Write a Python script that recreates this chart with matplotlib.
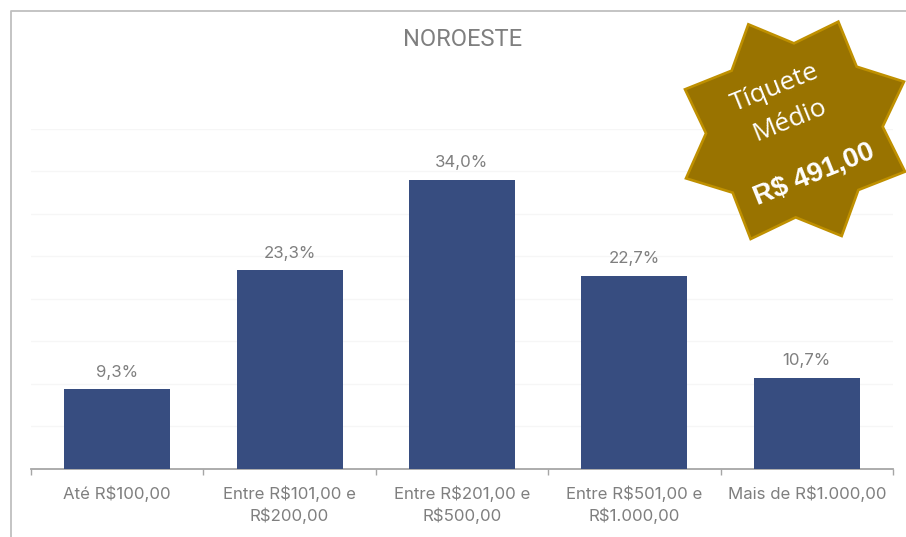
import matplotlib
matplotlib.use("Agg")
import matplotlib.pyplot as plt
from matplotlib.patches import Polygon
from matplotlib.lines import Line2D

categories = ["Até R$100,00", "Entre R$101,00 e\nR$200,00", "Entre R$201,00 e\nR$500,00",
              "Entre R$501,00 e\nR$1.000,00", "Mais de R$1.000,00"]
values = [9.3, 23.3, 34.0, 22.7, 10.7]
labels = ["9,3%", "23,3%", "34,0%", "22,7%", "10,7%"]
title = "NOROESTE"

W, H = 906, 537
GRAY = "#7f7f7f"
FONT = "Inter"
fig = plt.figure(figsize=(W / 100, H / 100), dpi=100, facecolor="white")
ax = fig.add_axes([31 / W, 1 - 468.5 / H, (893 - 31) / W, (468.5 - 128.5) / H])
x = list(range(len(values)))
ax.bar(x, values, width=0.615, color="#374d80", zorder=3)
ax.set_xlim(-0.5, 4.5)
ax.set_ylim(0, 40)
ax.set_yticks(range(5, 45, 5))
ax.grid(axis="y", color="#f6f6f6", lw=0.9, zorder=0)
ax.tick_params(axis="y", left=False, labelleft=False)
for s in ("top", "left", "right"):
    ax.spines[s].set_visible(False)
ax.spines["bottom"].set_color("#a6a6a6")
ax.spines["bottom"].set_linewidth(1.3)
ax.set_xticks([i - 0.5 for i in range(6)])
ax.tick_params(axis="x", which="major", length=4.5, color="#a6a6a6", width=1, labelbottom=False)
ax.set_xticks(x, categories, minor=True)
ax.tick_params(axis="x", which="minor", length=0, pad=12.5, labelsize=12.1, labelcolor=GRAY)
for t in ax.get_xticklabels(minor=True):
    t.set_family(FONT)
    t.set_linespacing(1.36)
for xi, v, lab in zip(x, values, labels):
    ax.annotate(lab, (xi, v), xytext=(0, 7), textcoords="offset points", ha="center", va="bottom",
                color=GRAY, fontsize=12.1, family=FONT)

px = lambda a, b: (a / W, 1 - b / H)
fig.text(*px(463, 40), title, ha="center", va="center", color=GRAY, fontsize=17, family="Roboto")

# outer frame
fig.add_artist(Line2D([10.5 / W, 10.5 / W, 1], [0, 1 - 11 / H, 1 - 11 / H], color="#bfbfbf", lw=1.3))

# badge
zx = [265, 402, 535, 590, 732, 668, 735, 595, 545, 407, 272, 218, 78, 138, 75, 215]
zy = [73, 130, 65, 200, 245, 380, 515, 570, 708, 652, 717, 578, 535, 400, 268, 212]
star = Polygon([px(660 + a / 3, b / 3) for a, b in zip(zx, zy)], closed=True, transform=fig.transFigure,
               facecolor="#997300", edgecolor="#bf9000", lw=1.9, zorder=5)
fig.add_artist(star)
fig.text(*px(775, 88), "Tíquete", rotation=22, ha="center", va="center", rotation_mode="anchor",
         color="white", fontsize=19, family="Open Sans", zorder=6)
fig.text(*px(790, 120), "Médio", rotation=22, ha="center", va="center", rotation_mode="anchor",
         color="white", fontsize=19, family="Open Sans", zorder=6)
fig.text(*px(814, 174), "R$ 491,00", rotation=22, ha="center", va="center", rotation_mode="anchor",
         color="white", fontsize=20, family="Liberation Sans", fontweight="bold", zorder=6)

fig.savefig("out.png", dpi=100)
